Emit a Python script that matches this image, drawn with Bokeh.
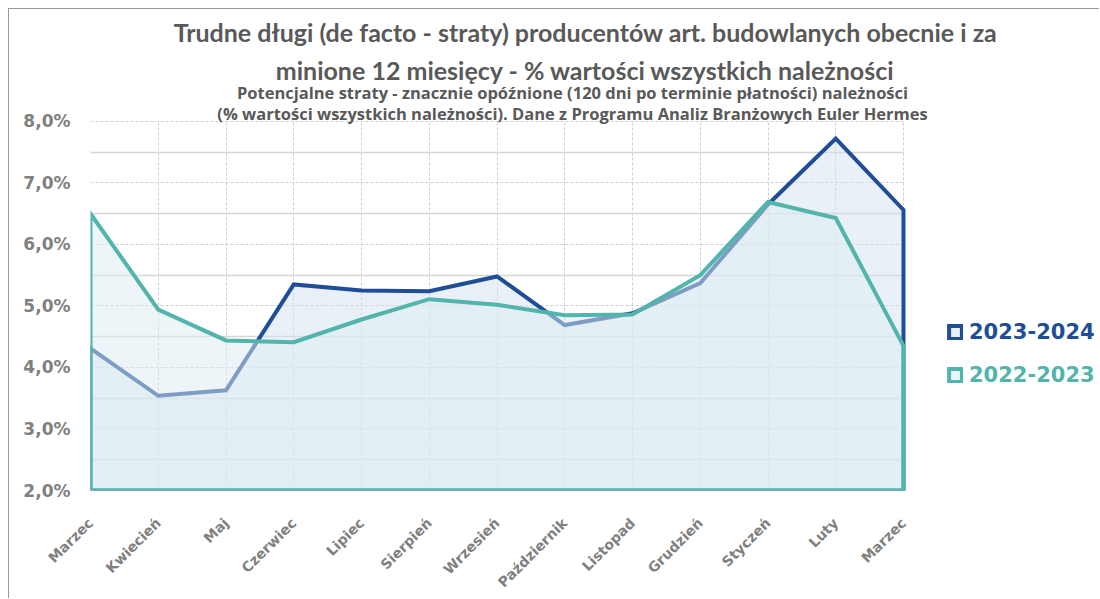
import math
from bokeh.plotting import figure
from bokeh.models import FixedTicker, Label, Legend, LegendItem
from bokeh.embed import file_html
from bokeh.resources import INLINE

# ---------------- data ----------------
months = ["Marzec", "Kwiecień", "Maj", "Czerwiec", "Lipiec", "Sierpień", "Wrzesień",
          "Październik", "Listopad", "Grudzień", "Styczeń", "Luty", "Marzec"]
y_2324 = [4.31, 3.54, 3.63, 5.35, 5.25, 5.24, 5.48, 4.69, 4.88, 5.37, 6.65, 7.72, 6.56]
y_2223 = [6.50, 4.94, 4.44, 4.41, 4.78, 5.11, 5.02, 4.85, 4.86, 5.50, 6.69, 6.43, 4.35]
series_names = ["2023-2024", "2022-2023"]
y_ticks = [2, 3, 4, 5, 6, 7, 8]
y_minor = [2.5, 3.5, 4.5, 5.5, 6.5, 7.5]
y_tick_labels = ["2,0%", "3,0%", "4,0%", "5,0%", "6,0%", "7,0%", "8,0%"]
title_lines = ["Trudne długi (de facto - straty) producentów art. budowlanych obecnie i za",
               "minione 12 miesięcy - % wartości wszystkich należności"]
subtitle_lines = ["Potencjalne straty - znacznie opóźnione (120 dni po terminie płatności) należności",
                  "(% wartości wszystkich należności). Dane z Programu Analiz Branżowych Euler Hermes"]
BASE = 2.0
TOP = 8.0

DARK = "#1F4E96"
TEAL = "#52B5AB"
GREY = "#808080"
TXT = "#595959"

# ---------------- geometry (pixels) ----------------
W, H = 1091, 590           # canvas size
LEFT_PANEL = 81            # y-axis panel width
BOTTOM_PANEL = 100         # x-axis panel height
PLOT_W = 813               # width of the chart area (first to last month)
PLOT_H = 376               # height of the chart area (BASE..TOP)
frame_w = W - LEFT_PANEL
frame_h = H - BOTTOM_PANEL
n = len(months) - 1
x_end = frame_w * n / PLOT_W
y_end = BASE + frame_h * (TOP - BASE) / PLOT_H

p = figure(width=W, height=H, output_backend="svg", toolbar_location=None,
           x_range=(0, x_end), y_range=(BASE, y_end),
           min_border_left=LEFT_PANEL, min_border_right=0, min_border_top=0,
           min_border_bottom=BOTTOM_PANEL)
p.styles = {"margin-left": "8px", "margin-top": "8px",
            "border-left": "1px solid #9A9A9A", "border-top": "1px solid #9A9A9A"}
p.outline_line_color = None
p.background_fill_color = "white"
p.border_fill_color = "white"

xs = list(range(len(months)))
poly_x = xs + [xs[-1], xs[0]]

r1 = p.patch(poly_x, y_2324 + [BASE, BASE], fill_color="#D5E1F1", fill_alpha=0.5,
             line_color=DARK, line_width=4, line_join="miter")
r2 = p.patch(poly_x, y_2223 + [BASE, BASE], fill_color="#DDEBF1", fill_alpha=0.5,
             line_color=TEAL, line_width=4, line_join="miter")

# axes
p.xaxis.ticker = FixedTicker(ticks=xs)
p.xaxis.bounds = (0, n)
p.xaxis.major_label_overrides = {i: m for i, m in enumerate(months)}
p.xaxis.major_label_orientation = math.pi / 4
p.xaxis.axis_line_color = None
p.xaxis.major_tick_line_color = None
p.xaxis.minor_tick_line_color = None
p.xaxis.major_label_text_font = "DejaVu Sans"
p.xaxis.major_label_text_font_style = "bold"
p.xaxis.major_label_text_font_size = "14px"
p.xaxis.major_label_text_color = GREY
p.xaxis.major_label_standoff = 24

p.yaxis.ticker = FixedTicker(ticks=y_ticks, minor_ticks=y_minor)
p.yaxis.bounds = (BASE, TOP)
p.yaxis.major_label_overrides = {t: l for t, l in zip(y_ticks, y_tick_labels)}
p.yaxis.axis_line_color = None
p.yaxis.major_tick_line_color = None
p.yaxis.minor_tick_line_color = None
p.yaxis.major_label_text_font = "DejaVu Sans"
p.yaxis.major_label_text_font_style = "bold"
p.yaxis.major_label_text_font_size = "17px"
p.yaxis.major_label_text_color = GREY
p.yaxis.major_label_standoff = 14

p.xgrid.ticker = FixedTicker(ticks=xs)
p.xgrid.bounds = (0, n)
p.xgrid.cross_bounds = (BASE, TOP)
p.xgrid.grid_line_color = "#CFCFCF"
p.xgrid.grid_line_dash = "3 2"
p.xgrid.grid_line_width = 1
p.ygrid.ticker = FixedTicker(ticks=y_ticks, minor_ticks=y_minor)
p.ygrid.bounds = (BASE, TOP)
p.ygrid.cross_bounds = (0, n)
p.ygrid.grid_line_color = "#CFCFCF"
p.ygrid.grid_line_dash = "3 2"
p.ygrid.minor_grid_line_color = "#D6D6D6"
p.ygrid.minor_grid_line_width = 1.5

# legends (one per series so each label keeps its colour)
for r, name, col, top in [(r1, series_names[0], DARK, 146), (r2, series_names[1], TEAL, 103)]:
    lg = Legend(items=[LegendItem(label=name, renderers=[r])], location=(857, top),
                background_fill_alpha=0, border_line_color=None, padding=0, margin=0,
                spacing=0, glyph_width=16, glyph_height=16, label_standoff=6,
                label_text_font="DejaVu Sans", label_text_font_style="bold",
                label_text_font_size="21px", label_text_color=col)
    p.add_layout(lg)

# titles
for txt, y in zip(title_lines, [459, 421]):
    p.add_layout(Label(x=495, y=y, x_units="screen", y_units="screen", text=txt,
                       text_align="center", text_baseline="alphabetic",
                       text_font="Lato", text_font_style="bold", text_font_size="25px",
                       text_color=TXT))
for txt, y in zip(subtitle_lines, [398, 377]):
    p.add_layout(Label(x=482, y=y, x_units="screen", y_units="screen", text=txt,
                       text_align="center", text_baseline="alphabetic",
                       text_font="Open Sans", text_font_style="bold",
                       text_font_size="16.5px", text_color=TXT))

open("out.html", "w").write(file_html(p, INLINE))
